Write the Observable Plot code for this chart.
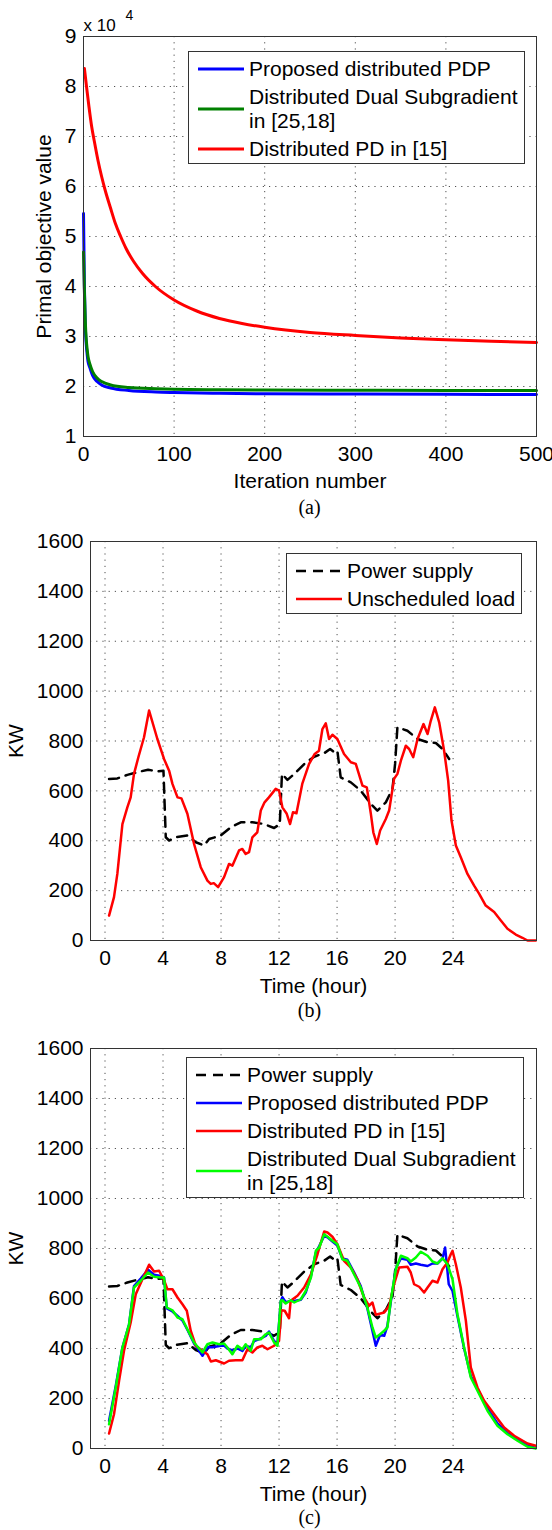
<!DOCTYPE html>
<html><head><meta charset="utf-8">
<script src="https://cdn.jsdelivr.net/npm/d3@7"></script>
<script src="https://cdn.jsdelivr.net/npm/@observablehq/plot@0.6"></script>
<style>
body{margin:0;background:#fff;width:552px;font-family:"Liberation Sans",Arial,sans-serif;}
.panel{position:relative;width:552px;}
.panel svg.plot{display:block;}
.cap{font-family:"Liberation Serif","Times New Roman",serif;font-size:20px;text-align:center;margin-left:83px;width:453px;color:#000;}
.legend{position:absolute;border:1px solid #333;background:#fff;box-sizing:border-box;padding-top:3px;}
.item{display:flex;align-items:center;padding:2px 0;}
.item svg{margin-left:9px;margin-right:5px;flex:none;display:block}
.item span{font-size:21px;line-height:24px;white-space:pre;color:#000}
</style></head><body><div id="root"></div><script>
// ---------- Panel (a): primal objective value (x 10^4) vs iteration ----------
const iterA  = [0, 1, 2, 3, 4, 5, 7, 10, 15, 20, 30, 50, 80, 100, 150, 200, 300, 400, 500];
const pdpA   = [5.46, 4.0, 3.2, 2.85, 2.65, 2.5, 2.38, 2.22, 2.1, 2.03, 1.97, 1.92, 1.89, 1.88, 1.865, 1.855, 1.85, 1.845, 1.84];
const ddsA   = [4.69, 3.9, 3.3, 2.95, 2.75, 2.6, 2.45, 2.3, 2.17, 2.1, 2.03, 1.98, 1.955, 1.945, 1.935, 1.93, 1.925, 1.92, 1.92];
const iterPdA = [1, 3, 6, 9, 12, 16, 20, 24, 30, 35, 41, 47, 55, 65, 80, 100, 125, 150, 175, 200, 250, 300, 350, 400, 450, 500];
const pdA    = [8.36, 8.05, 7.6, 7.2, 6.9, 6.52, 6.2, 5.92, 5.56, 5.27, 5.0, 4.76, 4.51, 4.265, 3.99, 3.73, 3.51, 3.36, 3.26, 3.185, 3.08, 3.02, 2.97, 2.935, 2.905, 2.88];
const xTicksA = [0, 100, 200, 300, 400, 500];
const yTicksA = [1, 2, 3, 4, 5, 6, 7, 8, 9];
const namesA = ["Proposed distributed PDP", "Distributed Dual Subgradient\nin [25,18]", "Distributed PD in [15]"];

// ---------- Panels (b),(c): KW vs time (hour) ----------
const hourTicks = [0, 4, 8, 12, 16, 20, 24];
const kwTicks = [0, 200, 400, 600, 800, 1000, 1200, 1400, 1600];
const powerSupply = [[0.28,648],[0.85,650],[1.54,664],[2.23,675],[2.97,685],[3.61,678],[4.03,681],[4.19,414],[4.42,401],[4.88,414],[5.68,421],[6.26,394],[6.83,381],[7.18,407],[7.98,421],[8.67,454],[9.36,474],[10.16,474],[10.97,467],[11.66,451],[12.05,467],[12.2,668],[12.58,644],[13.05,668],[13.74,708],[14.42,737],[15.11,751],[15.52,768],[15.8,755],[16.02,761],[16.25,654],[16.95,634],[17.63,601],[18.33,548],[18.78,521],[19.36,554],[19.82,608],[20.0,708],[20.16,855],[20.85,841],[21.55,808],[22.24,795],[22.81,792],[23.27,768],[23.73,728]];
const unscheduledLoad = [[0.28,100],[0.62,174],[0.85,267],[1.2,467],[1.54,534],[1.77,574],[2.0,668],[2.3,735],[2.69,815],[3.04,922],[3.61,808],[4.07,728],[4.42,681],[4.65,628],[5.0,574],[5.27,570],[5.68,508],[6.14,387],[6.6,294],[7.06,240],[7.29,227],[7.5,230],[7.8,214],[8.21,254],[8.55,307],[8.78,300],[9.24,361],[9.47,367],[9.7,347],[9.93,354],[10.16,414],[10.5,434],[10.74,521],[11.0,554],[11.3,574],[11.77,608],[12.0,601],[12.23,534],[12.53,508],[12.76,467],[12.96,514],[13.2,510],[13.6,628],[14.07,708],[14.46,748],[14.75,761],[14.99,848],[15.22,871],[15.45,808],[15.68,825],[16.02,808],[16.48,748],[16.95,715],[17.29,708],[17.75,621],[18.05,614],[18.33,508],[18.5,434],[18.74,387],[18.97,441],[19.36,487],[19.59,521],[19.93,648],[20.16,668],[20.4,721],[20.74,781],[20.97,768],[21.25,735],[21.55,808],[21.96,868],[22.24,828],[22.46,881],[22.74,935],[23.04,875],[23.38,761],[23.66,641],[23.89,481],[24.19,381],[24.53,334],[24.99,267],[25.45,220],[25.8,187],[26.25,140],[26.83,114],[27.29,80],[27.75,47],[28.32,24],[28.78,11],[29.13,0],[29.7,0]];
const pdpLoad = [[0.28,111],[0.74,250],[1.2,404],[1.66,497],[2.0,650],[2.46,680],[2.97,715],[3.38,695],[3.84,690],[4.07,684],[4.26,560],[4.65,548],[5.0,530],[5.34,512],[5.68,475],[6.14,420],[6.72,371],[7.06,405],[7.41,405],[7.87,410],[8.21,412],[8.44,400],[8.78,392],[9.13,400],[9.47,390],[9.7,410],[10.05,405],[10.28,430],[10.74,440],[11.08,450],[11.31,468],[11.66,430],[11.89,420],[12.12,590],[12.23,605],[12.46,585],[12.8,590],[13.05,590],[13.5,595],[13.85,625],[14.2,690],[14.54,785],[14.77,810],[15.11,850],[15.34,845],[15.68,828],[16.02,812],[16.37,760],[16.71,755],[17.17,705],[17.63,650],[18.09,560],[18.44,470],[18.67,411],[18.97,455],[19.25,451],[19.47,490],[19.7,585],[20.05,720],[20.4,760],[20.85,755],[21.08,735],[21.43,740],[21.77,735],[22.24,730],[22.58,740],[22.92,740],[23.27,760],[23.45,804],[23.7,657],[23.96,630],[24.3,530],[24.76,400],[25.22,290],[25.8,225],[26.37,160],[27.06,100],[27.75,62],[28.44,35],[29.13,12],[29.7,2]];
const pdLoad = [[0.28,60],[0.62,137],[0.97,271],[1.31,391],[1.77,504],[2.12,617],[2.58,677],[3.04,735],[3.38,708],[3.73,711],[4.07,673],[4.3,637],[4.65,637],[5.0,604],[5.34,577],[5.64,551],[5.91,471],[6.26,411],[6.72,391],[7.06,377],[7.3,348],[7.64,353],[8.21,340],[8.55,351],[9.01,353],[9.47,353],[9.82,397],[10.16,384],[10.5,404],[10.85,411],[11.2,397],[11.66,411],[12.0,431],[12.16,553],[12.39,551],[12.69,521],[12.8,591],[13.27,611],[13.73,644],[14.2,697],[14.65,777],[15.11,868],[15.34,864],[15.68,847],[16.02,817],[16.48,751],[16.95,724],[17.4,677],[17.86,604],[18.2,571],[18.44,584],[18.67,535],[19.25,544],[19.59,571],[19.93,657],[20.28,724],[20.85,727],[21.08,704],[21.31,657],[21.66,647],[22.0,624],[22.24,644],[22.58,671],[22.92,664],[23.27,717],[23.61,744],[23.84,777],[23.96,791],[24.19,737],[24.53,644],[24.88,511],[25.22,324],[25.68,244],[26.14,191],[26.83,137],[27.52,84],[28.21,51],[29.13,20],[29.7,11]];
const ddsLoad = [[0.28,97],[0.74,244],[1.2,404],[1.66,497],[2.0,644],[2.46,671],[2.97,704],[3.38,687],[3.84,684],[4.07,684],[4.26,564],[4.65,553],[5.0,524],[5.34,517],[5.68,477],[6.14,424],[6.72,384],[7.06,417],[7.41,424],[7.87,417],[8.21,420],[8.44,404],[8.78,377],[9.13,411],[9.47,397],[9.7,417],[10.05,391],[10.28,437],[10.74,437],[11.08,457],[11.31,464],[11.66,424],[11.89,411],[12.12,591],[12.23,593],[12.46,580],[12.8,593],[13.05,584],[13.5,597],[13.85,631],[14.2,684],[14.54,791],[14.77,804],[15.11,857],[15.34,847],[15.68,831],[16.02,817],[16.37,757],[16.71,751],[17.17,697],[17.63,644],[18.09,564],[18.44,484],[18.67,444],[18.97,457],[19.25,471],[19.47,484],[19.7,591],[20.05,717],[20.4,771],[20.85,761],[21.08,748],[21.43,764],[21.77,787],[22.24,771],[22.58,748],[22.92,740],[23.27,761],[23.61,737],[23.96,677],[24.3,537],[24.76,404],[25.22,284],[25.8,217],[26.37,151],[27.06,91],[27.75,57],[28.44,31],[29.13,7],[29.7,0]];
const namesB = ["Power supply", "Unscheduled load"];
const namesC = ["Power supply", "Proposed distributed PDP", "Distributed PD in [15]", "Distributed Dual Subgradient\nin [25,18]"];

// ---------- helpers ----------
const FONT = '"Liberation Sans", Arial, sans-serif';
const gridStyle = {stroke: "#333", strokeOpacity: 0.85, strokeWidth: 1, strokeDasharray: "1.2,5"};
const pairs = (xs, ys) => xs.map((x, i) => [x, ys[i]]);
const px = d => d[0], py = d => d[1];

function makePlot(o) {
  return Plot.plot({
    width: 552, height: o.height,
    marginTop: o.mt, marginBottom: o.mb, marginLeft: o.ml, marginRight: o.mr,
    style: {fontFamily: FONT, fontSize: "21px", color: "#000", background: "#fff", overflow: "visible"},
    x: {domain: o.xDomain},
    y: {domain: o.yDomain},
    marks: [
      Plot.gridX(o.xTicks, gridStyle),
      Plot.gridY(o.yTicks, gridStyle),
      ...o.lines,
      Plot.frame({stroke: "#333", strokeWidth: 1}),
      Plot.axisX(o.xTicks, {tickSize: 0, tickPadding: 10, tickFormat: d => String(d), label: o.xLabel, labelAnchor: "center", labelOffset: o.xLabelOffset, labelArrow: "none", fontSize: 21}),
      Plot.axisY(o.yTicks, {tickSize: 0, tickPadding: 7, tickFormat: d => String(d), label: o.yLabel, labelAnchor: "center", labelOffset: o.yLabelOffset, labelArrow: "none", fontSize: 21}),
      ...(o.extra || [])
    ]
  });
}

function addLegend(wrap, pos, items) {
  const box = document.createElement("div");
  box.className = "legend";
  box.style.left = pos.left + "px"; box.style.top = pos.top + "px"; box.style.width = pos.width + "px";
  for (const it of items) {
    const row = document.createElement("div");
    row.className = "item";
    row.innerHTML = `<svg width="46" height="8"><line x1="0" x2="46" y1="4" y2="4" stroke="${it.color}" stroke-width="${it.width}" ${it.dash ? `stroke-dasharray="${it.dash}"` : ""}/></svg><span></span>`;
    row.querySelector("span").textContent = it.label;
    box.appendChild(row);
  }
  wrap.appendChild(box);
}

function addPanel(plot, capText, capHeight, legendPos, legendItems) {
  const wrap = document.createElement("div");
  wrap.className = "panel";
  wrap.appendChild(plot);
  const cap = document.createElement("div");
  cap.className = "cap";
  cap.style.height = capHeight + "px"; cap.style.lineHeight = capHeight + "px";
  cap.textContent = capText;
  wrap.appendChild(cap);
  addLegend(wrap, legendPos, legendItems);
  document.getElementById("root").appendChild(wrap);
}

const BLUE = "#0000ff", RED = "#ff0000", DGREEN = "#008000", LGREEN = "#00ff00", BLACK = "#000";
const DASH = "10,7";

// Panel (a)
const plotA = makePlot({
  height: 492, mt: 36, mb: 56, ml: 83, mr: 16,
  xDomain: [0, 500], yDomain: [1, 9], xTicks: xTicksA, yTicks: yTicksA,
  xLabel: "Iteration number", yLabel: "Primal objective value", xLabelOffset: 51, yLabelOffset: 47,
  lines: [
    Plot.line(pairs(iterA, pdpA), {x: px, y: py, stroke: BLUE, strokeWidth: 3, curve: "monotone-x"}),
    Plot.line(pairs(iterA, ddsA), {x: px, y: py, stroke: DGREEN, strokeWidth: 3, curve: "monotone-x"}),
    Plot.line(pairs(iterPdA, pdA), {x: px, y: py, stroke: RED, strokeWidth: 3, curve: "monotone-x"})
  ],
  extra: [
    Plot.text(["x 10"], {frameAnchor: "top-left", textAnchor: "start", lineAnchor: "bottom", dy: -6, fontSize: 17}),
    Plot.text(["4"], {frameAnchor: "top-left", textAnchor: "start", lineAnchor: "bottom", dx: 42, dy: -17, fontSize: 14})
  ]
});
addPanel(plotA, "(a)", 30, {left: 188, top: 51, width: 337}, [
  {label: namesA[0], color: BLUE, width: 3},
  {label: namesA[1], color: DGREEN, width: 3},
  {label: namesA[2], color: RED, width: 3}
]);

// Panel (b)
const plotB = makePlot({
  height: 474, mt: 19, mb: 56, ml: 90, mr: 16,
  xDomain: [-1, 29.75], yDomain: [0, 1600], xTicks: hourTicks, yTicks: kwTicks,
  xLabel: "Time (hour)", yLabel: "KW", xLabelOffset: 52, yLabelOffset: 82,
  lines: [
    Plot.line(powerSupply, {x: px, y: py, stroke: BLACK, strokeWidth: 2.5, strokeDasharray: DASH}),
    Plot.line(unscheduledLoad, {x: px, y: py, stroke: RED, strokeWidth: 2.5})
  ]
});
addPanel(plotB, "(b)", 28, {left: 286, top: 31, width: 236}, [
  {label: namesB[0], color: BLACK, width: 2.5, dash: DASH},
  {label: namesB[1], color: RED, width: 2.5}
]);

// Panel (c)
const plotC = makePlot({
  height: 480, mt: 24, mb: 56, ml: 90, mr: 16,
  xDomain: [-1, 29.75], yDomain: [0, 1600], xTicks: hourTicks, yTicks: kwTicks,
  xLabel: "Time (hour)", yLabel: "KW", xLabelOffset: 52, yLabelOffset: 82,
  lines: [
    Plot.line(powerSupply, {x: px, y: py, stroke: BLACK, strokeWidth: 2.5, strokeDasharray: DASH}),
    Plot.line(pdpLoad, {x: px, y: py, stroke: BLUE, strokeWidth: 2.5}),
    Plot.line(pdLoad, {x: px, y: py, stroke: RED, strokeWidth: 2.5}),
    Plot.line(ddsLoad, {x: px, y: py, stroke: LGREEN, strokeWidth: 2.5})
  ]
});
addPanel(plotC, "(c)", 26, {left: 186, top: 33, width: 338}, [
  {label: namesC[0], color: BLACK, width: 2.5, dash: DASH},
  {label: namesC[1], color: BLUE, width: 2.5},
  {label: namesC[2], color: RED, width: 2.5},
  {label: namesC[3], color: LGREEN, width: 2.5}
]);
</script></body></html>
